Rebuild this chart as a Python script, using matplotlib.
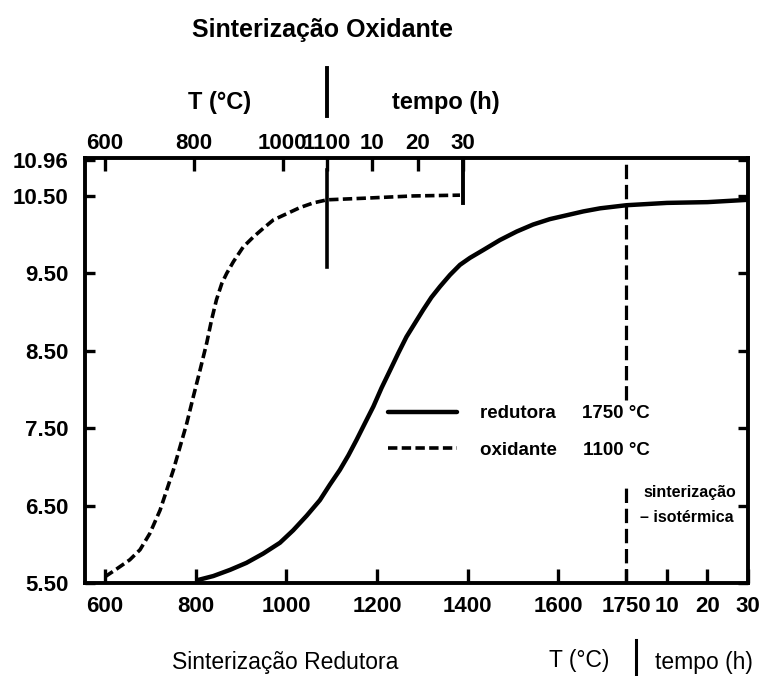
import matplotlib
matplotlib.use("Agg")
import matplotlib.pyplot as plt
import numpy as np

plt.rcParams['font.family'] = ['Liberation Sans', 'DejaVu Sans']
plt.rcParams['font.weight'] = 'bold'

# ---------------- data ----------------
# Reducing sintering (solid): heating ramp (T, degC) then isothermal at 1750 degC (t, h)
red_T = [806, 839, 876, 912, 949, 986, 1015, 1045, 1074, 1096, 1118, 1137, 1155,
         1173, 1192, 1210, 1229, 1247, 1265, 1284, 1302, 1320, 1339, 1361, 1383,
         1405, 1434, 1471, 1508, 1544, 1581, 1618, 1655, 1692, 1750]
red_T_val = [5.54, 5.59, 5.67, 5.76, 5.88, 6.02, 6.18, 6.37, 6.57, 6.77, 6.96,
             7.15, 7.35, 7.56, 7.78, 8.02, 8.25, 8.47, 8.68, 8.86, 9.03, 9.19,
             9.33, 9.48, 9.61, 9.70, 9.80, 9.93, 10.04, 10.13, 10.20, 10.25,
             10.30, 10.34, 10.38]
red_t = [0, 10, 20, 30]
red_t_val = [10.38, 10.41, 10.42, 10.45]

# Oxidizing sintering (dashed): heating ramp then isothermal at 1100 degC
ox_T = [600, 626, 656, 679, 701, 724, 739, 754, 769, 784, 799, 814, 829, 840,
        851, 863, 874, 889, 911, 934, 956, 979, 1009, 1039, 1069, 1100]
ox_T_val = [5.58, 5.68, 5.80, 5.93, 6.14, 6.44, 6.70, 6.96, 7.26, 7.56, 7.91,
            8.25, 8.60, 8.90, 9.16, 9.37, 9.50, 9.65, 9.84, 9.97, 10.08, 10.19,
            10.27, 10.35, 10.41, 10.45]
ox_t = [0, 8, 19, 29.3]
ox_t_val = [10.45, 10.47, 10.50, 10.51]

bottom_T_ticks = [600, 800, 1000, 1200, 1400, 1600, 1750]
bottom_t_ticks = [10, 20, 30]
top_T_ticks = [600, 800, 1000, 1100]
top_t_ticks = [10, 20, 30]
y_ticks = [5.50, 6.50, 7.50, 8.50, 9.50, 10.50, 10.96]
y_labels = ["5.50", "6.50", "7.50", "8.50", "9.50", "10.50", "10.96"]

# ---------------- composite axis scales ----------------
def bot_T(T):
    return np.asarray(T, float)

def bot_t(t):
    return 1750 + 8.94 * np.asarray(t, float)

def top_T(T):
    return 600 + (np.asarray(T, float) - 600) * 0.98

def top_t(t):
    return top_T(1100) + 10.0 * np.asarray(t, float)

fig = plt.figure(figsize=(7.7, 6.76), dpi=100)
ax = fig.add_axes([85/770, 1-583/676, 663/770, 425/676])
ax.set_xlim(556, 2018)
ax.set_ylim(5.50, 10.99)

# curves
red_x = np.concatenate([bot_T(red_T), bot_t(red_t)[1:]])
red_y = red_T_val + red_t_val[1:]
l_red, = ax.plot(red_x, red_y, color='black', lw=3.2, solid_capstyle='round',
                 solid_joinstyle='round')

ox_x = np.concatenate([top_T(ox_T), top_t(ox_t)[1:]])
ox_y = ox_T_val + ox_t_val[1:]
l_ox, = ax.plot(ox_x, ox_y, color='black', lw=2.6, dashes=(2.6, 1.2))

# markers for end of heating / isothermal periods
ax.plot([top_T(1100)]*2, [9.58, 10.84], color='black', lw=2.6)
ax.plot([top_t(30)]*2, [10.41, 10.99], color='black', lw=2.8)
# start of the isothermal stage of reducing sintering (interrupted by the legend text)
ax.vlines([bot_t(0), bot_t(0)], [7.86, 5.50], [10.99, 6.77], colors='black',
          lw=2.3, linestyles=[(0, (4.5, 1.8))])

# frame & ticks
for s in ax.spines.values():
    s.set_linewidth(2.8)
ax.set_xticks(np.concatenate([bot_T(bottom_T_ticks), bot_t(bottom_t_ticks)]))
ax.set_xticklabels([str(v) for v in bottom_T_ticks] + [str(v) for v in bottom_t_ticks])
ax.set_yticks(y_ticks)
ax.set_yticklabels(y_labels)
ax.tick_params(axis='x', direction='in', length=10, width=2.4, pad=9, labelsize=16)
ax.tick_params(axis='y', direction='in', length=7, width=2.4, pad=12, labelsize=16,
               right=True)

ax2 = ax.twiny()
ax2.set_xlim(ax.get_xlim())
ax2.set_xticks(np.concatenate([top_T(top_T_ticks), top_t(top_t_ticks)]))
ax2.set_xticklabels([str(v) for v in top_T_ticks] + [str(v) for v in top_t_ticks])
ax2.tick_params(axis='x', direction='in', length=9, width=2.4, pad=3, labelsize=16)
for s in ax2.spines.values():
    s.set_visible(False)

# legend
ax.legend([l_red, l_ox], ["redutora     1750 °C", "oxidante     1100 °C"],
          loc='upper left', bbox_to_anchor=(388/770, 1-405/676),
          bbox_transform=fig.transFigure, frameon=False, fontsize=13.5,
          handlelength=3.7, handletextpad=1.2, labelspacing=1.05, borderpad=0,
          borderaxespad=0)

# isothermal annotation
fig.text(643/770, 1-492/676, "sinterização", fontsize=11.5, ha='left', va='center')
fig.text(640/770, 1-517/676, "– isotérmica", fontsize=11.5, ha='left', va='center')

# axis titles (top)
fig.text(322/770, 1-30/676, "Sinterização Oxidante", fontsize=18, ha='center', va='center')
fig.text(220/770, 1-103/676, "T (°C)", fontsize=17, ha='center', va='center')
fig.add_artist(plt.Line2D([327/770]*2, [1-68/676, 1-116/676], color='black', lw=2.8))
fig.text(446/770, 1-103/676, "tempo (h)", fontsize=17, ha='center', va='center')

# axis titles (bottom)
fig.text(285/770, 1-662/676, "Sinterização Redutora", fontsize=16.5, ha='center',
         va='center', fontweight='normal')
fig.text(579/770, 1-660/676, "T (°C)", fontsize=16.5, ha='center', va='center',
         fontweight='normal')
fig.add_artist(plt.Line2D([636/770]*2, [1-640/676, 1-676/676], color='black', lw=2.2))
fig.text(704/770, 1-662/676, "tempo (h)", fontsize=16.5, ha='center', va='center',
         fontweight='normal')

fig.savefig("out.png", dpi=100)
